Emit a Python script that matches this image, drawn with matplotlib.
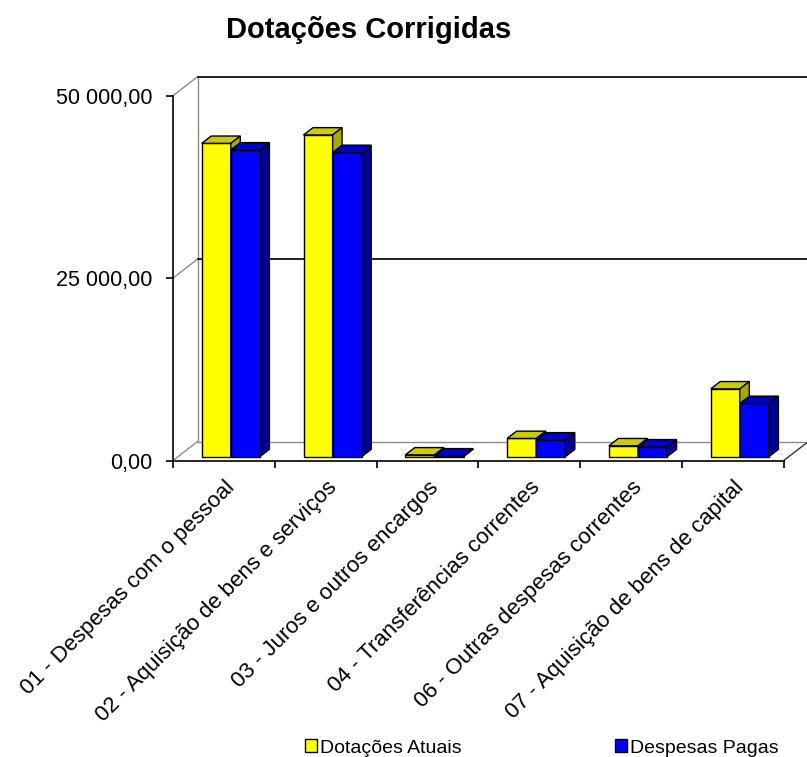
import matplotlib
matplotlib.use("Agg")
import matplotlib.pyplot as plt
from matplotlib.patches import Polygon, Patch
from matplotlib.transforms import offset_copy

plt.rcParams['font.family'] = ['Liberation Sans', 'DejaVu Sans']

# ---- data ----
title = "Dotações Corrigidas"
categories = [
    "01 - Despesas com o pessoal",
    "02 - Aquisição de bens e serviços",
    "03 - Juros e outros encargos",
    "04 - Transferências correntes",
    "06 - Outras despesas correntes",
    "07 - Aquisição de bens de capital",
]
series_names = ["Dotações Atuais", "Despesas Pagas"]
dotacoes_atuais = [42950, 44100, 250, 2500, 1500, 9300]
despesas_pagas = [42050, 41700, 110, 2300, 1350, 7300]
y_ticks = [0, 25000, 50000]
y_tick_labels = ["0,00", "25 000,00", "50 000,00"]

front_colors = ["#FFFF00", "#0000FF"]
top_colors = ["#CCCC00", "#0000CC"]
side_colors = ["#A8A800", "#000099"]

# ---- figure / axes geometry (pixels) ----
W, H = 807, 757
fig = plt.figure(figsize=(W / 100, H / 100), dpi=100)
x0p, x1p = 173.0, 783.8
y0p, y1p = 460.5, 95.7
ax = fig.add_axes([x0p / W, 1 - y0p / H, (x1p - x0p) / W, (y0p - y1p) / H])
n = len(categories)
ax.set_xlim(0, n)
ax.set_ylim(0, 50000)

pxx = (x1p - x0p) / n
pxy = (y0p - y1p) / 50000.0
def px2x(p):
    return p / pxx
def px2y(p):
    return p / pxy

DX, DY = px2x(24.6), px2y(19.0)          # full depth of the 3D box
off, bw = px2x(28.7), px2x(29.1)         # bar offset / width
b0 = px2y(3.8)                           # bar base (depth position)
bdx, bdy = px2x(9.5), px2y(7.3)          # bar depth

# ---- walls / gridlines ----
gray = "#8c8c8c"
for yv in y_ticks:
    ax.plot([0, DX], [yv, yv + DY], color=gray, lw=1.0, clip_on=False, zorder=1)
ax.plot([DX, DX], [DY, 50000 + DY], color=gray, lw=1.0, clip_on=False, zorder=1)
ax.plot([DX, n + DX], [DY, DY], color=gray, lw=1.0, clip_on=False, zorder=1)
for yv in y_ticks[1:]:
    ax.plot([DX, n + DX], [yv + DY, yv + DY], color="#111111", lw=1.3,
            clip_on=False, zorder=1)
ax.plot([n, n + DX], [0, DY], color="#333333", lw=1.0, clip_on=False, zorder=1)

# ---- bars ----
series = [dotacoes_atuais, despesas_pagas]
for s, vals in enumerate(series):
    xs = [i + off + s * bw for i in range(n)]
    z = 3 + s
    ax.bar(xs, vals, width=bw, bottom=b0, align="edge", color=front_colors[s],
           edgecolor="black", linewidth=1.0, clip_on=False, zorder=z)
    for x, v in zip(xs, vals):
        top = b0 + v
        ax.add_patch(Polygon([(x, top), (x + bw, top), (x + bw + bdx, top + bdy),
                              (x + bdx, top + bdy)], closed=True,
                             facecolor=top_colors[s], edgecolor="black",
                             linewidth=1.0, clip_on=False, zorder=z + 0.1))
        ax.add_patch(Polygon([(x + bw, b0), (x + bw + bdx, b0 + bdy),
                              (x + bw + bdx, top + bdy), (x + bw, top)],
                             closed=True, facecolor=side_colors[s],
                             edgecolor="black", linewidth=1.0, clip_on=False,
                             zorder=z + 0.1))

# ---- axes styling ----
for sp in ["top", "right"]:
    ax.spines[sp].set_visible(False)
for sp in ["left", "bottom"]:
    ax.spines[sp].set_color("black")
    ax.spines[sp].set_linewidth(1.2)
    ax.spines[sp].set_zorder(6)
ax.set_yticks(y_ticks)
ax.set_yticklabels(y_tick_labels, fontsize=15.5)
ax.set_xticks(range(n + 1))
ax.set_xticklabels([])
ax.tick_params(axis="both", direction="out", length=5, width=1.2,
               color="black")
ax.tick_params(axis="y", pad=10)
ax.patch.set_visible(False)

for i, lab in enumerate(categories):
    tr = offset_copy(ax.transData, fig=fig, x=8, y=-24, units="dots")
    ax.text(i + 0.5, 0, lab, transform=tr, rotation=45, rotation_mode="anchor",
            ha="right", va="center", fontsize=16)

fig.text(369 / W, 1 - 30 / H, title, ha="center", va="center",
         fontsize=21, fontweight="bold")

handles = [Patch(facecolor=c, edgecolor="black", linewidth=1.0) for c in front_colors]
fig.legend(handles=handles, labels=series_names, ncol=2, loc="center",
           bbox_to_anchor=(542 / W, 1 - 748 / H), frameon=False,
           handlelength=0.6, handleheight=0.6, handletextpad=0.15,
           columnspacing=7.9, fontsize=14, borderpad=0, borderaxespad=0)

fig.savefig("out.png", dpi=100)
